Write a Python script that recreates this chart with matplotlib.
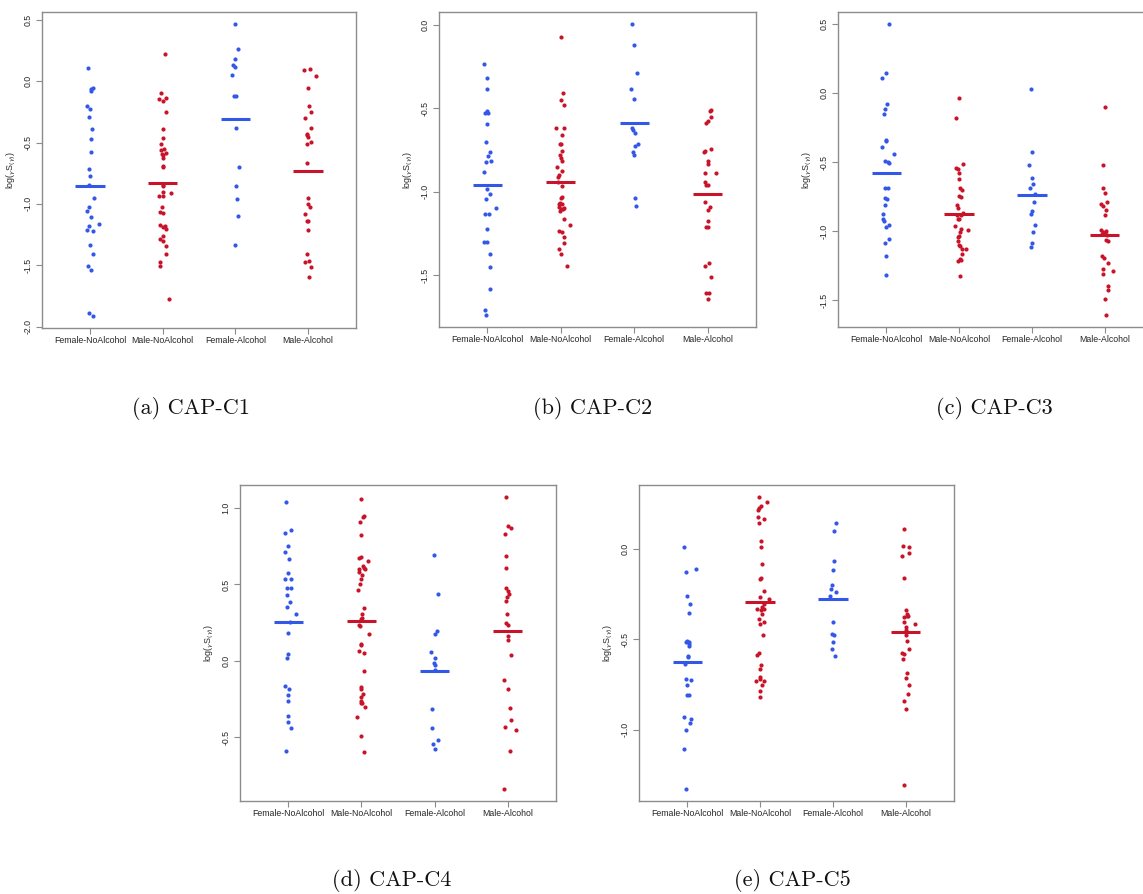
import numpy as np
import matplotlib.pyplot as plt
from matplotlib.ticker import MultipleLocator, FuncFormatter

plt.rcParams["axes.unicode_minus"] = False
plt.rcParams["font.family"] = ["Liberation Sans", "DejaVu Sans"]

GROUPS = ["Female-NoAlcohol", "Male-NoAlcohol", "Female-Alcohol", "Male-Alcohol"]
GROUP_COLORS = ["#3358e8", "#c8142a", "#3358e8", "#c8142a"]
CAPTIONS = ["(a) CAP-C1", "(b) CAP-C2", "(c) CAP-C3", "(d) CAP-C4", "(e) CAP-C5"]

# log-occupancy per subject, one list per group (same order as GROUPS)
C1_VALUES = [
    [0.109, -0.065, -0.057, -0.079, -0.202, -0.226, -0.289, -0.392, -0.474, -0.580,
     -0.714, -0.774, -0.842, -0.951, -1.025, -1.054, -1.106, -1.183, -1.166, -1.215,
     -1.221, -1.335, -1.409, -1.510, -1.542, -1.886, -1.916],
    [0.223, -0.093, -0.144, -0.161, -0.134, -0.253, -0.392, -0.463, -0.515, -0.553,
     -0.564, -0.589, -0.597, -0.605, -0.627, -0.689, -0.698, -0.842, -0.853, -0.899,
     -0.907, -0.932, -0.932, -1.025, -1.063, -1.074, -1.169, -1.188, -1.180, -1.202,
     -1.264, -1.289, -1.300, -1.343, -1.409, -1.474, -1.504, -1.779],
    [0.469, 0.262, 0.180, 0.131, 0.114, 0.049, -0.117, -0.117, -0.381, -0.698,
     -0.853, -0.959, -1.098, -1.335],
    [0.093, 0.098, 0.041, -0.057, -0.204, -0.251, -0.297, -0.379, -0.428, -0.436,
     -0.452, -0.499, -0.510, -0.670, -0.951, -0.997, -1.027, -1.079, -1.136, -1.142,
     -1.215, -1.411, -1.463, -1.471, -1.518, -1.599],
]
C1_JITTER = [
    [-0.03, 0.01, 0.04, 0.02, -0.04, 0.00, -0.01, 0.03, 0.01, 0.01, -0.02, 0.00, -0.01, 0.05,
     -0.02, -0.04, 0.02, -0.01, 0.12, -0.04, 0.04, 0.00, 0.04, -0.03, 0.01, -0.02, 0.04],
    [0.03, -0.02, -0.05, 0.00, 0.05, 0.04, 0.00, 0.00, -0.02, 0.02, -0.02, 0.04, -0.01, 0.01,
     0.00, 0.01, 0.01, 0.00, 0.01, 0.01, 0.12, -0.05, 0.01, -0.01, -0.04, 0.01, -0.03, 0.00,
     0.03, 0.04, 0.01, -0.04, 0.01, 0.05, 0.05, -0.03, -0.04, 0.09],
    [-0.01, 0.04, 0.00, -0.03, 0.00, -0.04, -0.02, 0.01, 0.01, 0.05, 0.01, 0.02, 0.04, -0.01],
    [-0.05, 0.03, 0.11, 0.00, 0.01, 0.04, -0.04, 0.04, -0.01, -0.02, 0.00, 0.04, -0.02, -0.02,
     0.00, 0.00, 0.03, -0.04, -0.02, 0.00, 0.00, -0.02, 0.01, -0.04, 0.04, 0.01],
]

C2_VALUES = [
    [-0.232, -0.320, -0.386, -0.518, -0.528, -0.528, -0.594, -0.704, -0.760, -0.786,
     -0.816, -0.824, -0.882, -0.984, -1.014, -1.044, -1.094, -1.132, -1.134, -1.222,
     -1.300, -1.298, -1.372, -1.448, -1.584, -1.706, -1.740],
    [-0.072, -0.410, -0.452, -0.480, -0.616, -0.618, -0.660, -0.714, -0.714, -0.756,
     -0.778, -0.798, -0.814, -0.852, -0.876, -0.898, -0.912, -0.942, -0.966, -1.028,
     -1.034, -1.068, -1.072, -1.074, -1.092, -1.098, -1.104, -1.104, -1.114, -1.160,
     -1.200, -1.236, -1.240, -1.272, -1.306, -1.344, -1.372, -1.444],
    [0.008, -0.122, -0.290, -0.384, -0.446, -0.620, -0.632, -0.648, -0.716, -0.728,
     -0.764, -0.780, -1.034, -1.082],
    [-0.508, -0.516, -0.552, -0.574, -0.588, -0.744, -0.754, -0.762, -0.816, -0.836,
     -0.888, -0.886, -0.938, -0.960, -0.958, -1.058, -1.090, -1.108, -1.174, -1.208,
     -1.212, -1.424, -1.446, -1.508, -1.604, -1.608, -1.644],
]
C2_JITTER = [
    [-0.04, -0.01, 0.00, -0.01, -0.03, 0.01, 0.00, -0.02, 0.04, 0.01, 0.05, -0.02, -0.04, 0.00,
     0.03, -0.02, 0.11, -0.03, 0.02, 0.00, -0.05, 0.00, 0.04, 0.04, 0.04, -0.03, -0.02],
    [0.00, 0.03, 0.00, 0.05, -0.06, 0.04, 0.01, -0.01, 0.00, 0.01, -0.01, 0.00, 0.01, -0.05,
     0.02, -0.02, -0.04, -0.04, 0.01, 0.02, 0.00, -0.01, -0.03, 0.01, -0.03, 0.04, 0.00, 0.03,
     -0.01, 0.05, 0.12, -0.03, 0.01, 0.05, 0.04, -0.03, 0.00, 0.09],
    [-0.03, 0.00, 0.04, -0.04, 0.00, -0.03, -0.02, 0.01, 0.05, 0.01, -0.01, 0.00, 0.01, 0.03],
    [0.04, 0.03, 0.04, 0.00, -0.02, 0.04, -0.04, -0.05, 0.00, 0.01, 0.11, -0.04, -0.03, -0.02,
     0.01, -0.03, 0.03, 0.00, 0.01, -0.02, 0.01, 0.02, -0.04, 0.04, -0.02, 0.02, 0.01],
]

C3_VALUES = [
    [0.502, 0.147, 0.106, -0.080, -0.114, -0.150, -0.343, -0.348, -0.391, -0.442,
     -0.490, -0.500, -0.510, -0.684, -0.684, -0.763, -0.766, -0.812, -0.874, -0.911,
     -0.925, -0.952, -0.969, -1.060, -1.085, -1.176, -1.314],
    [-0.034, -0.184, -0.512, -0.541, -0.551, -0.580, -0.623, -0.684, -0.703, -0.746,
     -0.751, -0.809, -0.833, -0.882, -0.865, -0.884, -0.915, -0.911, -0.959, -0.986,
     -0.995, -1.005, -1.034, -1.039, -1.070, -1.099, -1.106, -1.126, -1.130, -1.164,
     -1.203, -1.217, -1.208, -1.324],
    [0.029, -0.425, -0.519, -0.618, -0.659, -0.686, -0.734, -0.792, -0.855, -0.872,
     -0.957, -1.007, -1.087, -1.116],
    [-0.101, -0.519, -0.688, -0.720, -0.787, -0.802, -0.819, -0.848, -0.884, -0.990,
     -1.007, -1.000, -1.017, -1.019, -1.031, -1.063, -1.068, -1.179, -1.196, -1.232,
     -1.275, -1.287, -1.309, -1.396, -1.428, -1.490, -1.609],
]
C3_JITTER = [
    [0.04, 0.00, -0.05, 0.01, -0.02, -0.03, 0.00, 0.00, -0.05, 0.11, -0.02, 0.03, 0.04, -0.01,
     0.02, -0.02, 0.01, -0.01, -0.04, -0.04, -0.03, 0.04, 0.00, 0.04, -0.02, 0.00, 0.00],
    [0.00, -0.04, 0.05, -0.04, -0.02, 0.00, 0.00, 0.01, 0.04, 0.00, 0.03, -0.03, -0.02, -0.03,
     0.05, 0.03, 0.00, -0.01, -0.05, 0.02, 0.12, 0.01, 0.00, -0.02, -0.01, 0.00, 0.01, 0.09,
     0.04, 0.04, 0.01, -0.02, 0.02, 0.01],
    [-0.01, 0.00, -0.04, 0.00, 0.01, -0.03, 0.04, 0.03, 0.00, -0.02, 0.04, 0.01, 0.00, -0.02],
    [0.00, -0.02, -0.02, 0.00, 0.03, -0.05, -0.02, 0.01, 0.00, -0.05, -0.03, 0.01, -0.04, 0.00,
     0.03, 0.02, 0.04, -0.04, -0.01, 0.04, -0.02, 0.11, -0.03, 0.04, 0.04, 0.00, 0.02],
]

C4_VALUES = [
    [1.039, 0.857, 0.838, 0.750, 0.711, 0.664, 0.572, 0.535, 0.535, 0.478, 0.474, 0.434,
     0.382, 0.351, 0.305, 0.252, 0.182, 0.044, 0.015, -0.164, -0.182, -0.226, -0.263,
     -0.362, -0.401, -0.441, -0.590],
    [1.057, 0.945, 0.950, 0.908, 0.825, 0.680, 0.671, 0.656, 0.621, 0.610, 0.603, 0.601,
     0.579, 0.559, 0.533, 0.504, 0.463, 0.346, 0.309, 0.283, 0.272, 0.232, 0.230, 0.173,
     0.110, 0.105, 0.061, 0.053, -0.064, -0.173, -0.182, -0.217, -0.235, -0.265, -0.276,
     -0.274, -0.305, -0.371, -0.493, -0.596],
    [0.691, 0.436, 0.197, 0.173, 0.057, 0.020, -0.013, -0.029, -0.059, -0.314, -0.443,
     -0.520, -0.548, -0.575],
    [1.075, 0.882, 0.868, 0.833, 0.686, 0.607, 0.478, 0.454, 0.436, 0.419, 0.390, 0.309,
     0.248, 0.237, 0.162, 0.138, 0.039, -0.127, -0.182, -0.309, -0.386, -0.434, -0.456,
     -0.590, -0.842],
]
C4_JITTER = [
    [-0.03, 0.04, -0.04, 0.00, -0.04, 0.01, 0.00, -0.05, 0.04, 0.04, -0.02, -0.02, 0.02, -0.02,
     0.11, 0.03, 0.00, 0.00, -0.02, -0.04, 0.01, 0.00, 0.00, -0.01, 0.00, 0.04, -0.03],
    [0.00, 0.02, 0.03, -0.02, 0.00, 0.00, -0.03, 0.09, 0.02, 0.03, 0.05, -0.03, -0.04, 0.01,
     0.00, -0.02, -0.05, 0.04, 0.01, 0.01, 0.00, -0.04, -0.02, 0.11, 0.00, -0.01, -0.04, 0.04,
     0.04, 0.00, 0.00, 0.02, 0.00, 0.00, -0.01, 0.01, 0.05, -0.06, 0.00, 0.03],
    [-0.01, 0.04, 0.03, 0.01, -0.05, 0.00, -0.01, 0.00, 0.00, -0.03, -0.03, 0.04, -0.02, 0.00],
    [-0.03, 0.01, 0.04, -0.04, -0.03, -0.03, -0.03, 0.00, 0.02, -0.01, -0.03, -0.01, -0.03,
     0.00, 0.01, 0.00, 0.04, -0.05, 0.00, 0.03, 0.04, -0.04, 0.11, 0.03, -0.05],
]

C5_VALUES = [
    [0.015, -0.111, -0.128, -0.257, -0.304, -0.352, -0.513, -0.509, -0.515, -0.524,
     -0.537, -0.591, -0.598, -0.635, -0.717, -0.722, -0.752, -0.806, -0.807, -0.931,
     -0.941, -0.965, -1.000, -1.104, -1.330],
    [0.291, 0.259, 0.237, 0.230, 0.220, 0.181, 0.165, 0.146, 0.046, 0.013, -0.083,
     -0.157, -0.163, -0.233, -0.263, -0.274, -0.304, -0.320, -0.331, -0.331, -0.335,
     -0.361, -0.389, -0.404, -0.413, -0.476, -0.576, -0.587, -0.639, -0.661, -0.709,
     -0.717, -0.730, -0.731, -0.754, -0.787, -0.817],
    [0.148, 0.100, -0.065, -0.113, -0.196, -0.220, -0.235, -0.261, -0.404, -0.469,
     -0.476, -0.515, -0.552, -0.589],
    [0.111, 0.020, 0.015, -0.035, -0.019, -0.157, -0.335, -0.357, -0.370, -0.376, -0.372,
     -0.404, -0.417, -0.433, -0.450, -0.476, -0.507, -0.554, -0.574, -0.578, -0.609,
     -0.683, -0.711, -0.752, -0.804, -0.843, -0.883, -1.307],
]
C5_JITTER = [
    [-0.04, 0.12, -0.01, 0.00, 0.04, 0.03, -0.02, 0.00, 0.02, 0.03, 0.02, 0.01, 0.01, -0.03,
     -0.02, 0.05, 0.00, 0.00, 0.03, -0.04, 0.05, 0.04, -0.02, -0.04, -0.01],
    [-0.02, 0.10, 0.01, -0.01, -0.03, -0.03, 0.05, -0.02, 0.01, 0.01, 0.02, 0.01, 0.00, 0.05,
     0.00, 0.12, 0.05, 0.02, -0.04, 0.05, 0.01, 0.03, -0.02, 0.06, 0.00, 0.04, -0.02, -0.04,
     0.01, 0.00, 0.00, 0.00, 0.05, -0.05, 0.02, 0.00, 0.00],
    [0.04, 0.02, 0.01, 0.00, -0.02, -0.03, 0.04, -0.04, 0.00, -0.02, 0.01, 0.00, -0.01, 0.03],
    [-0.03, -0.04, 0.04, -0.05, 0.04, -0.03, 0.00, 0.01, 0.03, -0.02, 0.01, -0.03, 0.12, 0.00,
     0.00, 0.00, 0.01, 0.04, -0.05, -0.02, -0.04, 0.01, 0.00, 0.04, 0.03, -0.02, 0.00, -0.02],
]

PANELS = [
    (C1_VALUES, C1_JITTER),
    (C2_VALUES, C2_JITTER),
    (C3_VALUES, C3_JITTER),
    (C4_VALUES, C4_JITTER),
    (C5_VALUES, C5_JITTER),
]

W, H = 1143, 894
# axes boxes in pixels: left, top, right, bottom
BOXES = [
    (42, 12, 356, 328),
    (439, 12, 756, 327),
    (838, 12, 1153, 327),
    (240, 485, 556, 801),
    (639, 485, 954, 801),
]
# caption centres in pixels
CAPTION_XY = [(191, 408), (593, 408), (994, 408), (392, 880), (792, 880)]

AXIS_GREY = "#8c8c8c"
TEXT_COL = "#262626"


def tick_fmt(v, pos):
    # plain ASCII hyphen as minus, one decimal
    return ("-" if v < -1e-9 else "") + f"{abs(v):.1f}"


def draw_strip(ax, values, jitter):
    for i, (vals, jit) in enumerate(zip(values, jitter)):
        x = (i + 1) + np.asarray(jit)
        ax.plot(x, vals, "o", ms=3.0, mec="none", color=GROUP_COLORS[i])
        m = np.mean(vals)
        ax.plot([i + 1 - 0.2, i + 1 + 0.2], [m, m], "-", lw=2.2,
                color=GROUP_COLORS[i], solid_capstyle="butt")

    lo = min(min(v) for v in values)
    hi = max(max(v) for v in values)
    pad = 0.04 * (hi - lo)
    ax.set_ylim(lo - pad, hi + pad)
    ax.set_xlim(0.34, 4.66)

    ax.set_xticks(range(1, 5))
    ax.set_xticklabels(GROUPS)
    ax.yaxis.set_major_locator(MultipleLocator(0.5))
    ax.yaxis.set_major_formatter(FuncFormatter(tick_fmt))
    ax.tick_params(axis="both", length=4, width=0.8, color=AXIS_GREY,
                   labelsize=6.3, labelcolor=TEXT_COL, pad=2)
    ax.tick_params(axis="y", pad=3)
    plt.setp(ax.get_yticklabels(), rotation=90, va="center")
    for s in ax.spines.values():
        s.set_color(AXIS_GREY)
        s.set_linewidth(1.0)
    ax.set_ylabel(r"log($_{\gamma}$S$_{(\gamma)}$)", fontsize=6.4,
                  color=TEXT_COL, labelpad=4)


fig = plt.figure(figsize=(W / 100, H / 100), dpi=100)

for (values, jitter), (l, t, r, b) in zip(PANELS, BOXES):
    ax = fig.add_axes([l / W, 1 - b / H, (r - l) / W, (b - t) / H])
    draw_strip(ax, values, jitter)

for cap, (cx, cy) in zip(CAPTIONS, CAPTION_XY):
    fig.text(cx / W, 1 - cy / H, cap, ha="center", va="center",
             fontsize=16, family="cmr10", color="#111111")

fig.savefig("out.png", dpi=100)
